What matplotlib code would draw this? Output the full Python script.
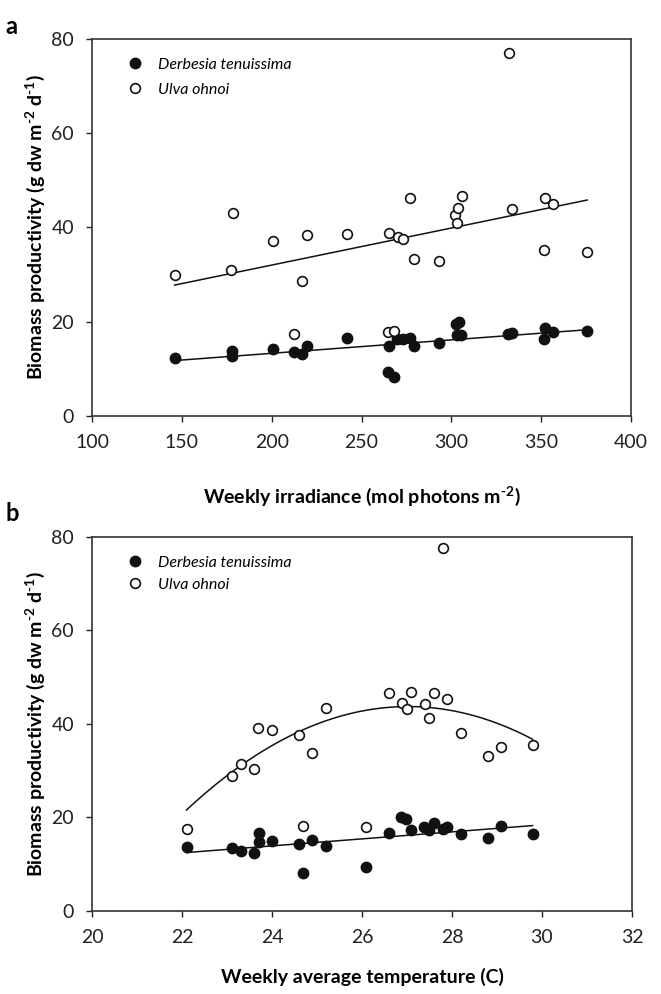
import numpy as np
import matplotlib
matplotlib.use('Agg')
import matplotlib.pyplot as plt

plt.rcParams['font.family'] = ['Lato', 'DejaVu Sans']
plt.rcParams['mathtext.fontset'] = 'custom'
plt.rcParams['mathtext.rm'] = 'Lato:bold'
plt.rcParams['mathtext.bf'] = 'Lato:bold'

# panel a: weekly irradiance (mol photons m-2)
derb_irr = [146, 178, 178, 201, 212.6, 217, 219.6, 241.7, 265.5, 265, 268, 270, 273, 277,
            279.4, 293, 302.6, 304, 303, 305.5, 331.7, 334, 352, 351.5, 356.7, 375.6]
derb_irr_prod = [12.3, 13.7, 12.8, 14.2, 13.5, 13.2, 14.8, 16.6, 14.8, 9.3, 8.3, 16.4, 16.3, 16.6,
                 14.9, 15.4, 19.5, 19.9, 17.1, 17.1, 17.4, 17.7, 18.7, 16.3, 17.8, 18.0]
ulva_irr = [146, 177.5, 178.3, 201, 212.6, 217, 219.6, 241.7, 264.5, 265.5, 268, 270.5, 273,
            277, 279.4, 293, 302.2, 302.9, 303.5, 305.7, 332, 334, 351.5, 352, 356.7, 375.6]
ulva_irr_prod = [30.0, 31.0, 43.0, 37.2, 17.3, 28.6, 38.4, 38.7, 17.8, 38.9, 18.0, 37.9, 37.5,
                 46.3, 33.3, 32.8, 42.7, 40.9, 44.2, 46.6, 77.0, 43.9, 35.2, 46.3, 45.0, 34.7]

# panel b: weekly average temperature (C)
derb_temp = [22.1, 23.1, 23.3, 23.6, 23.7, 23.7, 24.0, 24.61, 24.69, 24.89, 25.2, 26.09, 26.59,
             26.87, 26.98, 27.09, 27.38, 27.49, 27.59, 27.79, 27.9, 28.19, 28.79, 29.09, 29.79]
derb_temp_prod = [13.7, 13.4, 12.9, 12.4, 16.7, 14.8, 14.9, 14.4, 8.2, 15.2, 13.8, 9.4, 16.6,
                  20.0, 19.6, 17.3, 17.9, 17.3, 18.9, 17.6, 17.9, 16.5, 15.7, 18.2, 16.5]
ulva_temp = [22.1, 23.1, 23.3, 23.6, 23.69, 24.0, 24.61, 24.69, 24.89, 25.2, 26.09, 26.59, 26.89,
             27.0, 27.09, 27.39, 27.49, 27.59, 27.79, 27.89, 28.19, 28.79, 29.09, 29.79]
ulva_temp_prod = [17.5, 28.9, 31.4, 30.4, 39.1, 38.8, 37.7, 18.2, 33.7, 43.4, 18.0, 46.7, 44.4,
                  43.1, 46.8, 44.3, 41.3, 46.7, 77.7, 45.4, 38.1, 33.2, 35.0, 35.6]

# regression lines (intercept, slope[, quad])
derb_irr_fit = [7.6, 0.0285]
ulva_irr_fit = [16.3, 0.0786]
derb_temp_fit = [12.5, 0.75]
ulva_temp_fit = [21.6, 8.987, -0.9126]  # in (x - 22.1)

ylabel = 'Biomass productivity (g dw m$^{\\text{-2}}$ d$^{\\text{-1}}$)'


def style_axes(ax, xlim, xticks):
    ax.set_xlim(*xlim)
    ax.set_ylim(0, 80)
    ax.set_xticks(xticks)
    ax.set_yticks([0, 20, 40, 60, 80])
    ax.tick_params(direction='out', length=4, width=1, pad=9, labelsize=14, colors='#222222')
    for s in ax.spines.values():
        s.set_color('#333333')
        s.set_linewidth(1.2)
    ax.set_ylabel(ylabel, fontsize=14, fontweight='bold', labelpad=3)


def scatter_pair(ax, xd, yd, xu, yu, spacing):
    ax.plot(xd, yd, 'o', ms=7.5, mfc='#111111', mec='#111111', mew=1,
            label='Derbesia tenuissima', zorder=3)
    ax.plot(xu, yu, 'o', ms=7, mfc='white', mec='#111111', mew=1.2,
            label='Ulva ohnoi', zorder=3)
    leg = ax.legend(loc='upper left', bbox_to_anchor=(0.045, 0.967), frameon=False,
                    handletextpad=0.6, borderaxespad=0, labelspacing=spacing,
                    handlelength=1.6, prop={'style': 'italic', 'size': 11.5})
    return leg


fig = plt.figure(figsize=(6.61, 9.94), dpi=100)

# panel a
ax1 = fig.add_axes([0.1392, 0.5815, 0.8154, 0.3793])
scatter_pair(ax1, derb_irr, derb_irr_prod, ulva_irr, ulva_irr_prod, 0.66)
xx = np.linspace(min(derb_irr), max(derb_irr), 50)
ax1.plot(xx, derb_irr_fit[0] + derb_irr_fit[1] * xx, color='#111111', lw=1.1)
xx = np.linspace(min(ulva_irr), max(ulva_irr), 50)
ax1.plot(xx, ulva_irr_fit[0] + ulva_irr_fit[1] * xx, color='#111111', lw=1.1)
style_axes(ax1, (100, 400), [100, 150, 200, 250, 300, 350, 400])
ax1.set_xlabel('Weekly irradiance (mol photons m$^{\\text{-2}}$)', fontsize=14,
               fontweight='bold', labelpad=24)
fig.text(0.008, 0.985, 'a', fontsize=17, fontweight='bold', va='top')

# panel b
ax2 = fig.add_axes([0.1392, 0.0835, 0.8169, 0.3763])
scatter_pair(ax2, derb_temp, derb_temp_prod, ulva_temp, ulva_temp_prod, 0.5)
xx = np.linspace(min(derb_temp), max(derb_temp), 50)
ax2.plot(xx, derb_temp_fit[0] + derb_temp_fit[1] * (xx - 22.1), color='#111111', lw=1.1)
xx = np.linspace(min(ulva_temp), max(ulva_temp), 100)
u = xx - 22.1
ax2.plot(xx, ulva_temp_fit[0] + ulva_temp_fit[1] * u + ulva_temp_fit[2] * u ** 2,
         color='#111111', lw=1.1)
style_axes(ax2, (20, 32), [20, 22, 24, 26, 28, 30, 32])
ax2.set_xlabel('Weekly average temperature (C)', fontsize=14, fontweight='bold', labelpad=16)
fig.text(0.008, 0.495, 'b', fontsize=17, fontweight='bold', va='top')

fig.savefig('out.png', dpi=100)
